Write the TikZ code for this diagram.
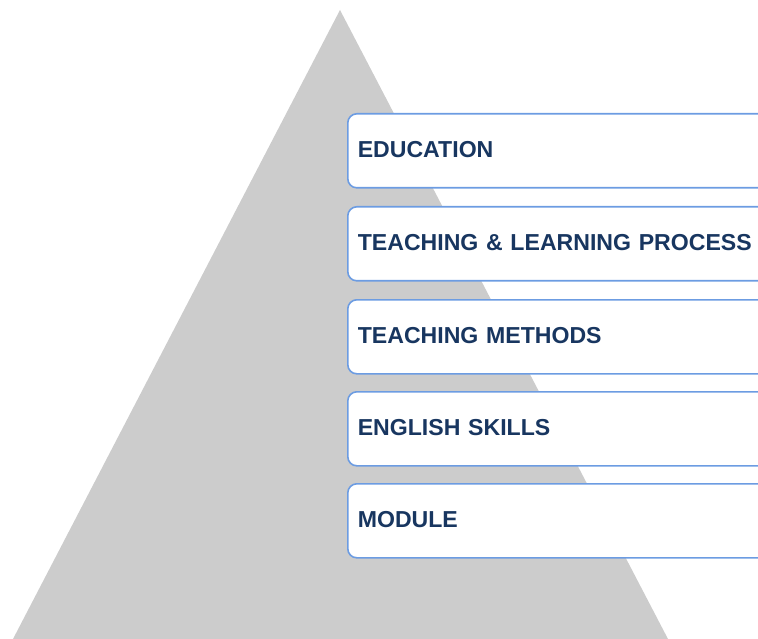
\documentclass[tikz,border=0pt]{standalone}
\usepackage{fontspec}
\setmainfont{Liberation Sans}
\definecolor{pyrgray}{RGB}{204,204,204}
\definecolor{boxline}{RGB}{108,156,226}
\definecolor{labelnavy}{RGB}{24,54,96}
\begin{document}
\begin{tikzpicture}[x=1pt,y=-1pt,
  levelbox/.style={draw=boxline, line width=1.6pt, fill=white, rounded corners=9pt,
    anchor=north west, minimum width=430pt, minimum height=74pt,
    text width=410pt, inner xsep=10pt, align=left, text depth=3pt,
    font=\fontsize{23.1pt}{26pt}\selectfont\bfseries, text=labelnavy}]
  \useasboundingbox (0,0) rectangle (758,639);
  \clip (0,0) rectangle (758,639);
  % pyramid
  \fill[pyrgray] (340,10) -- (13,639) -- (668,639) -- cycle;
  % levels, top to bottom
  \node[levelbox] (education) at (347,113) {EDUCATION};
  \node[levelbox] (process)   at (347,206) {TEACHING \& LEARNING PROCESS};
  \node[levelbox] (methods)   at (347,299) {TEACHING METHODS};
  \node[levelbox] (skills)    at (347,391) {ENGLISH SKILLS};
  \node[levelbox] (module)    at (347,483) {MODULE};
\end{tikzpicture}
\end{document}
